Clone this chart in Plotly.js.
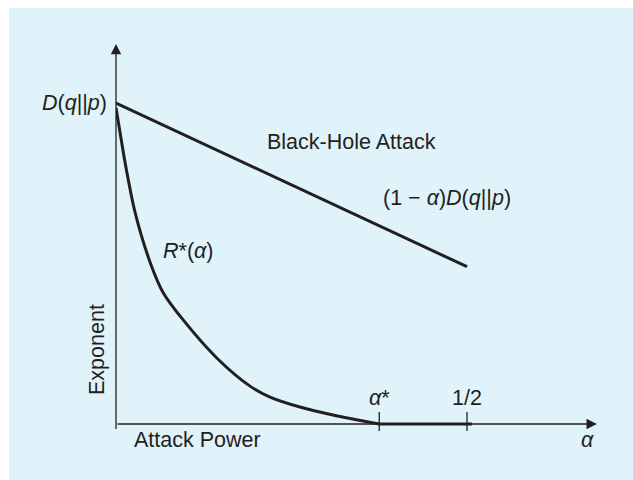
<!DOCTYPE html>
<html>
<head>
<meta charset="utf-8">
<script src="https://cdn.plot.ly/plotly-3.0.1.min.js"></script>
<style>html,body{margin:0;padding:0;background:#fff;}#chart{width:633px;height:480px;}</style>
</head>
<body>
<div id="chart"></div>
<script>
// Black-hole attack line: (1 - alpha) D(q||p)
const blackHoleAlpha = [0, 0.5];
const blackHoleExponent = [1, 0.49];

// R*(alpha) curve (decreasing part, up to alpha*)
const rStarAlpha = [0, 0.006, 0.0128, 0.0271, 0.0484, 0.067, 0.0954, 0.1439, 0.1909, 0.2194, 0.2621, 0.3091, 0.375];
const rStarExponent = [0.985, 0.905, 0.816, 0.66, 0.505, 0.41, 0.325, 0.205, 0.118, 0.084, 0.053, 0.028, 0];
// R*(alpha) flat part (alpha* to 1/2)
const rStarFlatAlpha = [0.375, 0.507];
const rStarFlatExponent = [0, 0];

// Tick marks on the alpha axis
const tickAlpha = [0.375, 0.5];
const tickLabels = ['<i>α</i>*', '1/2'];

const ink = '#231f20';
const font = {family: 'Liberation Sans, Arial, sans-serif', size: 21.5, color: ink};

const pxPerX = 702, pxPerY = 321;
const L = 116, R = 26, T = 39, B = 40, W = 633, H = 480;
const plotW = W - L - R, plotH = H - T - B;
const xRange = [0, plotW / pxPerX];
const yTop = (424 - T) / pxPerY;
const yRange = [yTop - plotH / pxPerY, yTop];
const px = v => (v - L) / plotW;          // pixel -> paper x
const py = v => (T + plotH - v) / plotH;  // pixel -> paper y

const traces = [
  {x: blackHoleAlpha, y: blackHoleExponent, mode: 'lines', line: {color: ink, width: 3}, hoverinfo: 'skip'},
  {x: rStarAlpha, y: rStarExponent, mode: 'lines', line: {color: ink, width: 3, shape: 'spline', smoothing: 0.8}, hoverinfo: 'skip'},
  {x: rStarFlatAlpha, y: rStarFlatExponent, mode: 'lines', line: {color: ink, width: 3}, hoverinfo: 'skip'}
];

const shapes = [
  {type: 'rect', xref: 'paper', yref: 'paper', layer: 'below',
   x0: px(9), x1: px(W) + 0.02, y0: py(H) - 0.02, y1: py(8),
   fillcolor: '#e0f2fa', line: {width: 0}}
];
tickAlpha.forEach(a => shapes.push({type: 'line', xref: 'x', yref: 'y', x0: a, x1: a, y0: -0.022, y1: 0.037, line: {color: ink, width: 1.3}}));

const label = (x, y, text, extra) => Object.assign({x: px(x), y: py(y), xref: 'paper', yref: 'paper', text: text, showarrow: false, xanchor: 'center', yanchor: 'middle', font: font}, extra || {});

const annotations = [
  // axes with arrowheads
  {x: 0.685, y: 0, ax: 0, ay: 0, xref: 'x', yref: 'y', axref: 'x', ayref: 'y', text: '', showarrow: true, arrowhead: 2, arrowsize: 1.6, arrowwidth: 1.3, arrowcolor: ink, standoff: 0, startstandoff: 0},
  {x: 0, y: 1.184, ax: 0, ay: -0.02, xref: 'x', yref: 'y', axref: 'x', ayref: 'y', text: '', showarrow: true, arrowhead: 2, arrowsize: 1.6, arrowwidth: 1.3, arrowcolor: ink, standoff: 0, startstandoff: 0},
  // labels
  label(109, 103, '<i>D</i>(<i>q</i>||<i>p</i>)', {xanchor: 'right'}),
  label(351, 142, 'Black-Hole Attack'),
  label(513, 198, '(1 − <i>α</i>)<i>D</i>(<i>q</i>||<i>p</i>)', {xanchor: 'right'}),
  label(188, 251, '<i>R</i>*(<i>α</i>)'),
  label(197, 440, 'Attack Power'),
  label(587, 440, '<i>α</i>'),
  label(97, 350, 'Exponent', {textangle: -90})
];
tickAlpha.forEach((a, i) => annotations.push(label(116 + a * pxPerX, 398, tickLabels[i])));

const layout = {
  width: W, height: H,
  margin: {l: L, r: R, t: T, b: B, pad: 0},
  paper_bgcolor: '#ffffff',
  plot_bgcolor: 'rgba(0,0,0,0)',
  showlegend: false,
  xaxis: {range: xRange, visible: false, fixedrange: true},
  yaxis: {range: yRange, visible: false, fixedrange: true},
  shapes: shapes,
  annotations: annotations
};

Plotly.newPlot('chart', traces, layout, {displayModeBar: false, staticPlot: true});
</script>
</body>
</html>
